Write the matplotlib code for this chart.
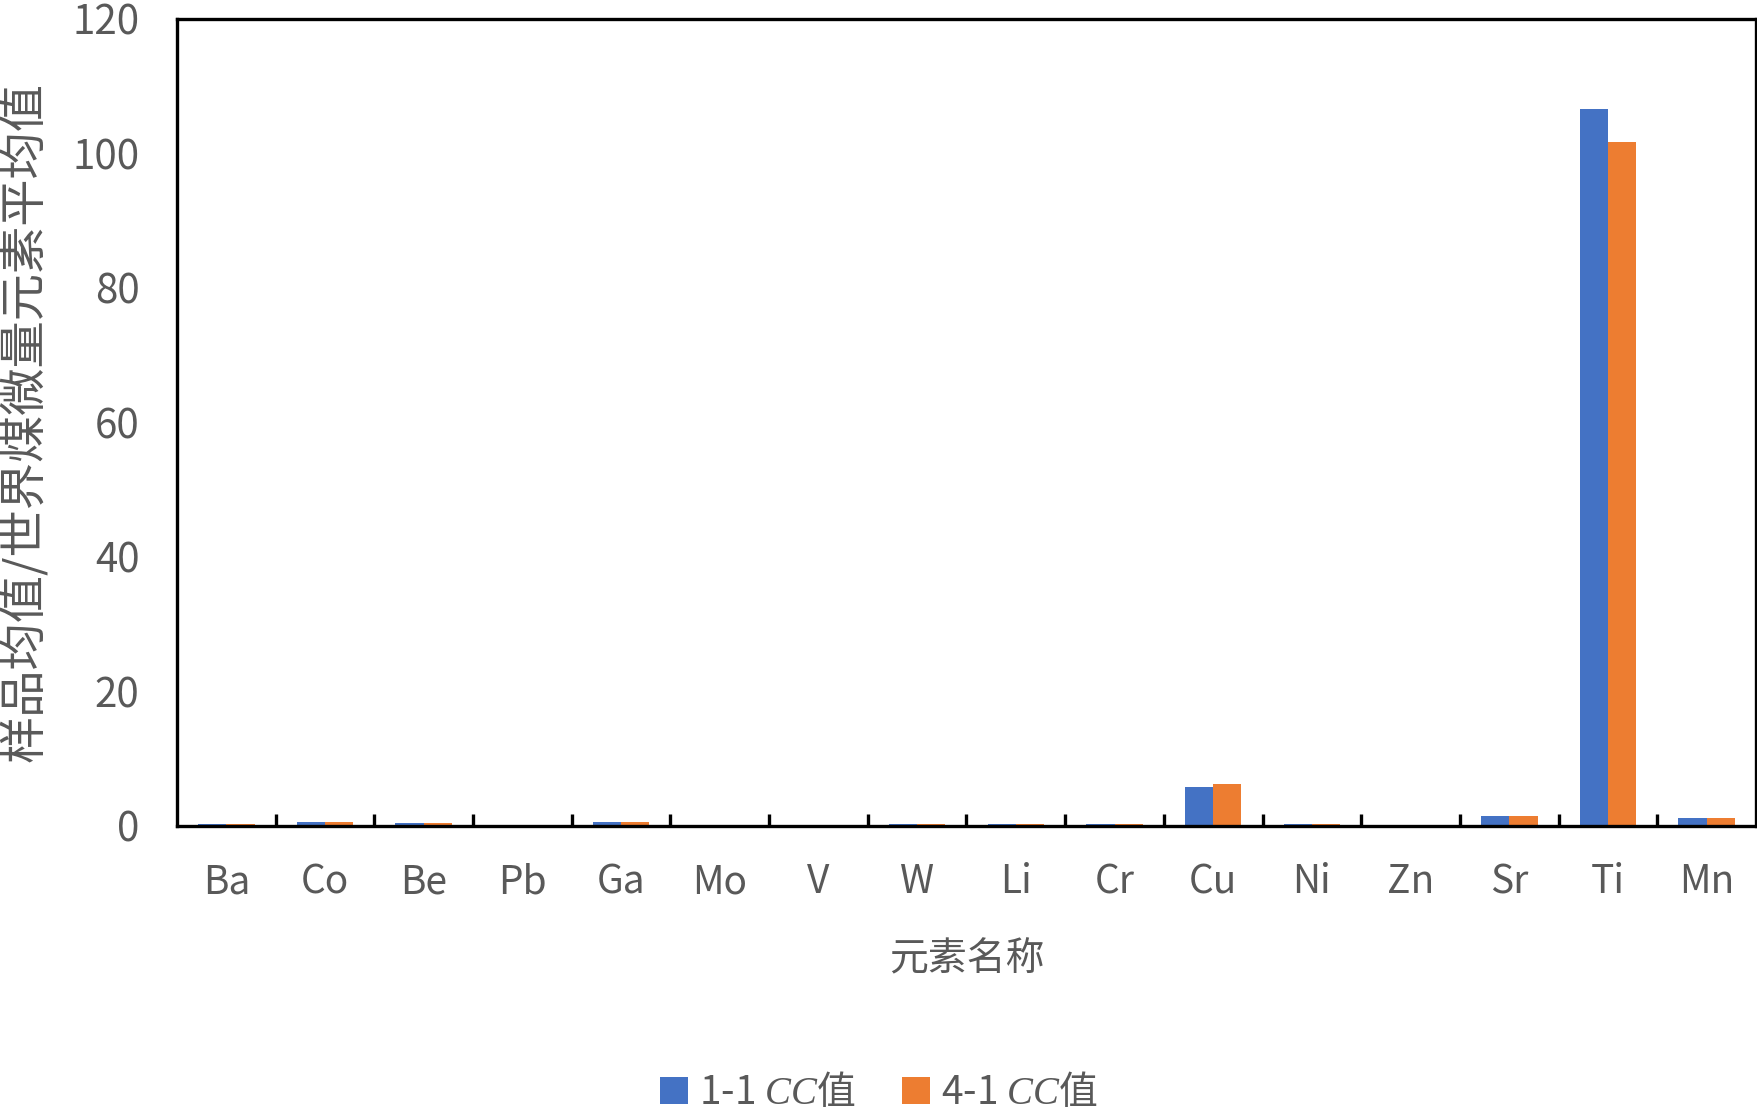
import matplotlib
matplotlib.use("Agg")
import matplotlib.pyplot as plt
import numpy as np

plt.rcParams['font.family'] = ['Noto Sans CJK SC', 'DejaVu Sans']
plt.rcParams['mathtext.fontset'] = 'custom'
plt.rcParams['mathtext.it'] = 'Liberation Serif:italic'
plt.rcParams['mathtext.rm'] = 'Liberation Serif'

elements = ['Ba', 'Co', 'Be', 'Pb', 'Ga', 'Mo', 'V', 'W', 'Li', 'Cr', 'Cu', 'Ni', 'Zn', 'Sr', 'Ti', 'Mn']
cc_1_1 = [0.25, 0.6, 0.45, 0.0, 0.6, 0.0, 0.0, 0.35, 0.35, 0.35, 5.8, 0.3, 0.0, 1.45, 106.6, 1.15]
cc_4_1 = [0.25, 0.6, 0.45, 0.0, 0.6, 0.0, 0.0, 0.35, 0.35, 0.35, 6.2, 0.3, 0.0, 1.45, 101.7, 1.15]
labels = ['1-1 $\\mathit{CC}$值', '4-1 $\\mathit{CC}$值']
yticks = [0, 20, 40, 60, 80, 100, 120]

gray = '#595959'
fig = plt.figure(figsize=(17.58, 11.12), dpi=100)
ax = fig.add_axes([177/1758, 1 - 826/1112, (1756-177)/1758, (826-18.5)/1112])

x = np.arange(len(elements))
w = 0.286
ax.bar(x - w/2, cc_1_1, width=w, color='#4472C4', label=labels[0], zorder=2)
ax.bar(x + w/2, cc_4_1, width=w, color='#ED7D31', label=labels[1], zorder=2)

ax.set_xlim(-0.5, len(elements) - 0.5)
ax.set_ylim(0, 120)
ax.set_yticks(yticks)
ax.set_yticklabels([str(t) for t in yticks])
ax.set_xticks(x)
ax.set_xticklabels(elements)
ax.set_xticks(np.arange(0.5, len(elements) - 0.5, 1), minor=True)
ax.tick_params(axis='x', which='major', length=0, pad=26, labelsize=28, labelcolor=gray)
ax.tick_params(axis='x', which='minor', direction='in', length=9, width=2.4, color='black')
ax.tick_params(axis='y', which='both', length=0, pad=27, labelsize=29, labelcolor=gray)

for s in ax.spines.values():
    s.set_linewidth(2.4)
    s.set_color('black')
    s.set_zorder(3)

ax.set_xlabel('元素名称', fontsize=28, color=gray, labelpad=27)
ax.set_ylabel('样品均值/世界煤微量元素平均值', fontsize=34, color=gray)
ax.yaxis.set_label_coords(-0.0805, 0.5)

leg = fig.legend(loc='center', bbox_to_anchor=(0.5, 1 - 1093/1112), ncol=2, frameon=False,
                 fontsize=28, labelcolor=gray, handlelength=0.7, handleheight=0.7,
                 handletextpad=0.3, columnspacing=1.2)

fig.savefig('out.png', dpi=100)
